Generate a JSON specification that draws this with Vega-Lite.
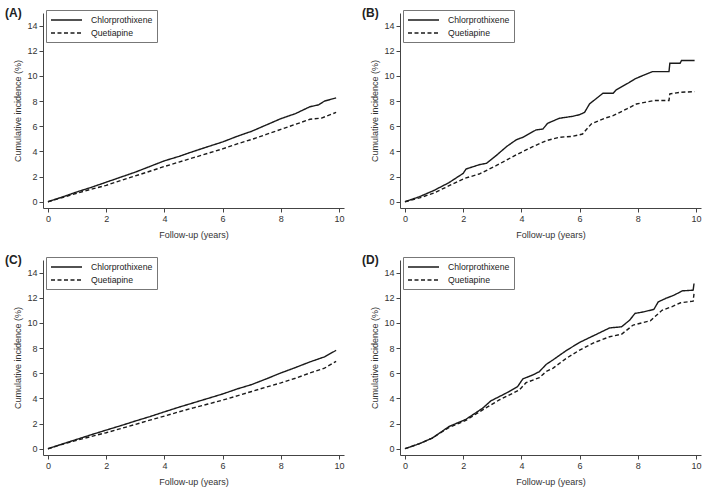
{
  "$schema": "https://vega.github.io/schema/vega-lite/v6.json",
  "padding": {"left": 5, "top": 6, "right": 5, "bottom": 5},
  "background": "white",
  "datasets": {
    "A": [
      {"drug": "Chlorprothixene", "t": 0, "v": 0}, {"drug": "Chlorprothixene", "t": 0.5, "v": 0.38}, {"drug": "Chlorprothixene", "t": 1, "v": 0.78}, {"drug": "Chlorprothixene", "t": 1.5, "v": 1.15}, {"drug": "Chlorprothixene", "t": 2, "v": 1.55}, {"drug": "Chlorprothixene", "t": 2.5, "v": 1.95}, {"drug": "Chlorprothixene", "t": 3, "v": 2.35}, {"drug": "Chlorprothixene", "t": 3.5, "v": 2.8}, {"drug": "Chlorprothixene", "t": 4, "v": 3.25}, {"drug": "Chlorprothixene", "t": 4.5, "v": 3.6}, {"drug": "Chlorprothixene", "t": 5, "v": 4.0}, {"drug": "Chlorprothixene", "t": 5.5, "v": 4.38}, {"drug": "Chlorprothixene", "t": 6, "v": 4.75}, {"drug": "Chlorprothixene", "t": 6.5, "v": 5.2}, {"drug": "Chlorprothixene", "t": 7, "v": 5.6}, {"drug": "Chlorprothixene", "t": 7.5, "v": 6.1}, {"drug": "Chlorprothixene", "t": 8, "v": 6.6}, {"drug": "Chlorprothixene", "t": 8.5, "v": 7.0}, {"drug": "Chlorprothixene", "t": 9, "v": 7.55}, {"drug": "Chlorprothixene", "t": 9.3, "v": 7.7}, {"drug": "Chlorprothixene", "t": 9.5, "v": 8.0}, {"drug": "Chlorprothixene", "t": 9.9, "v": 8.25},
      {"drug": "Quetiapine", "t": 0, "v": 0}, {"drug": "Quetiapine", "t": 0.5, "v": 0.33}, {"drug": "Quetiapine", "t": 1, "v": 0.68}, {"drug": "Quetiapine", "t": 1.5, "v": 1.0}, {"drug": "Quetiapine", "t": 2, "v": 1.3}, {"drug": "Quetiapine", "t": 2.5, "v": 1.68}, {"drug": "Quetiapine", "t": 3, "v": 2.05}, {"drug": "Quetiapine", "t": 3.5, "v": 2.42}, {"drug": "Quetiapine", "t": 4, "v": 2.8}, {"drug": "Quetiapine", "t": 4.5, "v": 3.15}, {"drug": "Quetiapine", "t": 5, "v": 3.5}, {"drug": "Quetiapine", "t": 5.5, "v": 3.85}, {"drug": "Quetiapine", "t": 6, "v": 4.2}, {"drug": "Quetiapine", "t": 6.5, "v": 4.6}, {"drug": "Quetiapine", "t": 7, "v": 4.95}, {"drug": "Quetiapine", "t": 7.5, "v": 5.35}, {"drug": "Quetiapine", "t": 8, "v": 5.75}, {"drug": "Quetiapine", "t": 8.5, "v": 6.15}, {"drug": "Quetiapine", "t": 9, "v": 6.55}, {"drug": "Quetiapine", "t": 9.4, "v": 6.65}, {"drug": "Quetiapine", "t": 9.9, "v": 7.1}
    ],
    "B": [
      {"drug": "Chlorprothixene", "t": 0, "v": 0}, {"drug": "Chlorprothixene", "t": 0.5, "v": 0.4}, {"drug": "Chlorprothixene", "t": 1, "v": 0.9}, {"drug": "Chlorprothixene", "t": 1.5, "v": 1.5}, {"drug": "Chlorprothixene", "t": 2, "v": 2.25}, {"drug": "Chlorprothixene", "t": 2.1, "v": 2.6}, {"drug": "Chlorprothixene", "t": 2.55, "v": 2.94}, {"drug": "Chlorprothixene", "t": 2.8, "v": 3.05}, {"drug": "Chlorprothixene", "t": 3.13, "v": 3.66}, {"drug": "Chlorprothixene", "t": 3.5, "v": 4.4}, {"drug": "Chlorprothixene", "t": 3.83, "v": 4.93}, {"drug": "Chlorprothixene", "t": 4.05, "v": 5.12}, {"drug": "Chlorprothixene", "t": 4.5, "v": 5.7}, {"drug": "Chlorprothixene", "t": 4.74, "v": 5.78}, {"drug": "Chlorprothixene", "t": 4.9, "v": 6.23}, {"drug": "Chlorprothixene", "t": 5.3, "v": 6.63}, {"drug": "Chlorprothixene", "t": 5.77, "v": 6.79}, {"drug": "Chlorprothixene", "t": 6, "v": 6.92}, {"drug": "Chlorprothixene", "t": 6.17, "v": 7.1}, {"drug": "Chlorprothixene", "t": 6.34, "v": 7.77}, {"drug": "Chlorprothixene", "t": 6.8, "v": 8.62}, {"drug": "Chlorprothixene", "t": 7.15, "v": 8.62}, {"drug": "Chlorprothixene", "t": 7.25, "v": 8.88}, {"drug": "Chlorprothixene", "t": 7.68, "v": 9.44}, {"drug": "Chlorprothixene", "t": 7.9, "v": 9.76}, {"drug": "Chlorprothixene", "t": 8.08, "v": 9.94}, {"drug": "Chlorprothixene", "t": 8.5, "v": 10.34}, {"drug": "Chlorprothixene", "t": 9.07, "v": 10.34}, {"drug": "Chlorprothixene", "t": 9.1, "v": 11.0}, {"drug": "Chlorprothixene", "t": 9.45, "v": 11.0}, {"drug": "Chlorprothixene", "t": 9.5, "v": 11.22}, {"drug": "Chlorprothixene", "t": 9.95, "v": 11.22},
      {"drug": "Quetiapine", "t": 0, "v": 0}, {"drug": "Quetiapine", "t": 0.5, "v": 0.3}, {"drug": "Quetiapine", "t": 1, "v": 0.7}, {"drug": "Quetiapine", "t": 1.5, "v": 1.25}, {"drug": "Quetiapine", "t": 2.04, "v": 1.85}, {"drug": "Quetiapine", "t": 2.55, "v": 2.2}, {"drug": "Quetiapine", "t": 3.13, "v": 2.86}, {"drug": "Quetiapine", "t": 3.83, "v": 3.74}, {"drug": "Quetiapine", "t": 4.39, "v": 4.37}, {"drug": "Quetiapine", "t": 4.85, "v": 4.85}, {"drug": "Quetiapine", "t": 5.3, "v": 5.12}, {"drug": "Quetiapine", "t": 5.77, "v": 5.2}, {"drug": "Quetiapine", "t": 6.1, "v": 5.38}, {"drug": "Quetiapine", "t": 6.4, "v": 6.18}, {"drug": "Quetiapine", "t": 6.86, "v": 6.63}, {"drug": "Quetiapine", "t": 7.15, "v": 6.84}, {"drug": "Quetiapine", "t": 7.62, "v": 7.37}, {"drug": "Quetiapine", "t": 7.95, "v": 7.77}, {"drug": "Quetiapine", "t": 8.55, "v": 8.04}, {"drug": "Quetiapine", "t": 9.07, "v": 8.04}, {"drug": "Quetiapine", "t": 9.1, "v": 8.57}, {"drug": "Quetiapine", "t": 9.47, "v": 8.7}, {"drug": "Quetiapine", "t": 9.95, "v": 8.75}
    ],
    "C": [
      {"drug": "Chlorprothixene", "t": 0, "v": 0}, {"drug": "Chlorprothixene", "t": 0.5, "v": 0.38}, {"drug": "Chlorprothixene", "t": 1, "v": 0.75}, {"drug": "Chlorprothixene", "t": 1.5, "v": 1.12}, {"drug": "Chlorprothixene", "t": 2, "v": 1.48}, {"drug": "Chlorprothixene", "t": 2.5, "v": 1.83}, {"drug": "Chlorprothixene", "t": 3, "v": 2.2}, {"drug": "Chlorprothixene", "t": 3.5, "v": 2.55}, {"drug": "Chlorprothixene", "t": 4, "v": 2.93}, {"drug": "Chlorprothixene", "t": 4.5, "v": 3.3}, {"drug": "Chlorprothixene", "t": 5, "v": 3.65}, {"drug": "Chlorprothixene", "t": 5.5, "v": 4.0}, {"drug": "Chlorprothixene", "t": 6, "v": 4.35}, {"drug": "Chlorprothixene", "t": 6.5, "v": 4.75}, {"drug": "Chlorprothixene", "t": 7, "v": 5.1}, {"drug": "Chlorprothixene", "t": 7.5, "v": 5.55}, {"drug": "Chlorprothixene", "t": 8, "v": 6.02}, {"drug": "Chlorprothixene", "t": 8.5, "v": 6.45}, {"drug": "Chlorprothixene", "t": 9, "v": 6.9}, {"drug": "Chlorprothixene", "t": 9.5, "v": 7.3}, {"drug": "Chlorprothixene", "t": 9.9, "v": 7.82},
      {"drug": "Quetiapine", "t": 0, "v": 0}, {"drug": "Quetiapine", "t": 0.5, "v": 0.35}, {"drug": "Quetiapine", "t": 1, "v": 0.68}, {"drug": "Quetiapine", "t": 1.5, "v": 0.98}, {"drug": "Quetiapine", "t": 2, "v": 1.27}, {"drug": "Quetiapine", "t": 2.5, "v": 1.6}, {"drug": "Quetiapine", "t": 3, "v": 1.93}, {"drug": "Quetiapine", "t": 3.5, "v": 2.27}, {"drug": "Quetiapine", "t": 4, "v": 2.59}, {"drug": "Quetiapine", "t": 4.5, "v": 2.93}, {"drug": "Quetiapine", "t": 5, "v": 3.25}, {"drug": "Quetiapine", "t": 5.5, "v": 3.55}, {"drug": "Quetiapine", "t": 6, "v": 3.86}, {"drug": "Quetiapine", "t": 6.5, "v": 4.2}, {"drug": "Quetiapine", "t": 7, "v": 4.55}, {"drug": "Quetiapine", "t": 7.5, "v": 4.9}, {"drug": "Quetiapine", "t": 8, "v": 5.23}, {"drug": "Quetiapine", "t": 8.5, "v": 5.6}, {"drug": "Quetiapine", "t": 9, "v": 6.02}, {"drug": "Quetiapine", "t": 9.5, "v": 6.4}, {"drug": "Quetiapine", "t": 9.9, "v": 6.95}
    ],
    "D": [
      {"drug": "Chlorprothixene", "t": 0, "v": 0}, {"drug": "Chlorprothixene", "t": 0.5, "v": 0.4}, {"drug": "Chlorprothixene", "t": 0.94, "v": 0.85}, {"drug": "Chlorprothixene", "t": 1.52, "v": 1.77}, {"drug": "Chlorprothixene", "t": 2.09, "v": 2.33}, {"drug": "Chlorprothixene", "t": 2.67, "v": 3.22}, {"drug": "Chlorprothixene", "t": 2.95, "v": 3.8}, {"drug": "Chlorprothixene", "t": 3.47, "v": 4.41}, {"drug": "Chlorprothixene", "t": 3.87, "v": 4.94}, {"drug": "Chlorprothixene", "t": 4.05, "v": 5.55}, {"drug": "Chlorprothixene", "t": 4.39, "v": 5.86}, {"drug": "Chlorprothixene", "t": 4.62, "v": 6.13}, {"drug": "Chlorprothixene", "t": 4.85, "v": 6.7}, {"drug": "Chlorprothixene", "t": 5.08, "v": 7.05}, {"drug": "Chlorprothixene", "t": 5.54, "v": 7.8}, {"drug": "Chlorprothixene", "t": 6, "v": 8.45}, {"drug": "Chlorprothixene", "t": 6.52, "v": 9.03}, {"drug": "Chlorprothixene", "t": 7.03, "v": 9.6}, {"drug": "Chlorprothixene", "t": 7.44, "v": 9.69}, {"drug": "Chlorprothixene", "t": 7.72, "v": 10.22}, {"drug": "Chlorprothixene", "t": 7.9, "v": 10.75}, {"drug": "Chlorprothixene", "t": 8.2, "v": 10.88}, {"drug": "Chlorprothixene", "t": 8.55, "v": 11.07}, {"drug": "Chlorprothixene", "t": 8.7, "v": 11.67}, {"drug": "Chlorprothixene", "t": 8.95, "v": 11.94}, {"drug": "Chlorprothixene", "t": 9.24, "v": 12.2}, {"drug": "Chlorprothixene", "t": 9.53, "v": 12.55}, {"drug": "Chlorprothixene", "t": 9.9, "v": 12.6}, {"drug": "Chlorprothixene", "t": 9.93, "v": 13.13},
      {"drug": "Quetiapine", "t": 0, "v": 0}, {"drug": "Quetiapine", "t": 0.5, "v": 0.4}, {"drug": "Quetiapine", "t": 0.94, "v": 0.85}, {"drug": "Quetiapine", "t": 1.52, "v": 1.7}, {"drug": "Quetiapine", "t": 2.09, "v": 2.25}, {"drug": "Quetiapine", "t": 2.67, "v": 3.09}, {"drug": "Quetiapine", "t": 3.24, "v": 3.88}, {"drug": "Quetiapine", "t": 3.93, "v": 4.67}, {"drug": "Quetiapine", "t": 4.16, "v": 5.25}, {"drug": "Quetiapine", "t": 4.62, "v": 5.65}, {"drug": "Quetiapine", "t": 4.85, "v": 6.13}, {"drug": "Quetiapine", "t": 5.08, "v": 6.39}, {"drug": "Quetiapine", "t": 5.54, "v": 7.18}, {"drug": "Quetiapine", "t": 6, "v": 7.84}, {"drug": "Quetiapine", "t": 6.52, "v": 8.45}, {"drug": "Quetiapine", "t": 7.03, "v": 8.9}, {"drug": "Quetiapine", "t": 7.44, "v": 9.1}, {"drug": "Quetiapine", "t": 7.84, "v": 9.83}, {"drug": "Quetiapine", "t": 8.43, "v": 10.17}, {"drug": "Quetiapine", "t": 8.83, "v": 11.0}, {"drug": "Quetiapine", "t": 9.18, "v": 11.3}, {"drug": "Quetiapine", "t": 9.47, "v": 11.6}, {"drug": "Quetiapine", "t": 9.9, "v": 11.73}, {"drug": "Quetiapine", "t": 9.93, "v": 12.33}
    ]
  },
  "columns": 2,
  "spacing": {"row": 52, "column": 56},
  "bounds": "flush",
  "resolve": {"scale": {"strokeDash": "independent", "x": "independent", "y": "independent"}, "legend": {"strokeDash": "independent"}},
  "concat": [
    {
      "width": 301, "height": 195,
      "data": {"name": "A"},
      "title": {"text": "(A)"},
      "mark": {"type": "line", "color": "#1a1a1a", "strokeWidth": 1.4},
      "encoding": {
        "x": {"field": "t", "type": "quantitative", "scale": {"domain": [-0.17, 10.17], "nice": false, "zero": false}, "axis": {"values": [0, 2, 4, 6, 8, 10], "title": "Follow-up (years)"}},
        "y": {"field": "v", "type": "quantitative", "scale": {"domain": [-0.5, 15], "nice": false, "zero": false}, "axis": {"values": [0, 2, 4, 6, 8, 10, 12, 14], "title": "Cumulative incidence (%)"}},
        "strokeDash": {"field": "drug", "type": "nominal", "scale": {"domain": ["Chlorprothixene", "Quetiapine"], "range": [[1, 0], [4, 2.5]]}, "legend": {"title": null}}
      }
    },
    {
      "width": 301, "height": 195,
      "data": {"name": "B"},
      "title": {"text": "(B)"},
      "mark": {"type": "line", "color": "#1a1a1a", "strokeWidth": 1.4},
      "encoding": {
        "x": {"field": "t", "type": "quantitative", "scale": {"domain": [-0.17, 10.17], "nice": false, "zero": false}, "axis": {"values": [0, 2, 4, 6, 8, 10], "title": "Follow-up (years)"}},
        "y": {"field": "v", "type": "quantitative", "scale": {"domain": [-0.5, 15], "nice": false, "zero": false}, "axis": {"values": [0, 2, 4, 6, 8, 10, 12, 14], "title": "Cumulative incidence (%)"}},
        "strokeDash": {"field": "drug", "type": "nominal", "scale": {"domain": ["Chlorprothixene", "Quetiapine"], "range": [[1, 0], [4, 2.5]]}, "legend": {"title": null}}
      }
    },
    {
      "width": 301, "height": 195,
      "data": {"name": "C"},
      "title": {"text": "(C)"},
      "mark": {"type": "line", "color": "#1a1a1a", "strokeWidth": 1.4},
      "encoding": {
        "x": {"field": "t", "type": "quantitative", "scale": {"domain": [-0.17, 10.17], "nice": false, "zero": false}, "axis": {"values": [0, 2, 4, 6, 8, 10], "title": "Follow-up (years)"}},
        "y": {"field": "v", "type": "quantitative", "scale": {"domain": [-0.5, 15], "nice": false, "zero": false}, "axis": {"values": [0, 2, 4, 6, 8, 10, 12, 14], "title": "Cumulative incidence (%)"}},
        "strokeDash": {"field": "drug", "type": "nominal", "scale": {"domain": ["Chlorprothixene", "Quetiapine"], "range": [[1, 0], [4, 2.5]]}, "legend": {"title": null}}
      }
    },
    {
      "width": 301, "height": 195,
      "data": {"name": "D"},
      "title": {"text": "(D)"},
      "mark": {"type": "line", "color": "#1a1a1a", "strokeWidth": 1.4},
      "encoding": {
        "x": {"field": "t", "type": "quantitative", "scale": {"domain": [-0.17, 10.17], "nice": false, "zero": false}, "axis": {"values": [0, 2, 4, 6, 8, 10], "title": "Follow-up (years)"}},
        "y": {"field": "v", "type": "quantitative", "scale": {"domain": [-0.5, 15], "nice": false, "zero": false}, "axis": {"values": [0, 2, 4, 6, 8, 10, 12, 14], "title": "Cumulative incidence (%)"}},
        "strokeDash": {"field": "drug", "type": "nominal", "scale": {"domain": ["Chlorprothixene", "Quetiapine"], "range": [[1, 0], [4, 2.5]]}, "legend": {"title": null}}
      }
    }
  ],
  "config": {
    "view": {"stroke": null},
    "font": "Liberation Sans",
    "axis": {"grid": false, "domainColor": "#444", "tickColor": "#444", "labelColor": "#333", "titleColor": "#333", "labelFontSize": 9, "titleFontSize": 9, "titleFontWeight": "normal", "tickSize": 4, "labelPadding": 2, "domainWidth": 1, "tickWidth": 1},
    "axisX": {"titlePadding": 7},
    "axisY": {"titlePadding": 4},
    "title": {"anchor": "start", "frame": "group", "fontSize": 12, "fontWeight": "bold", "color": "#222", "dx": -38, "offset": 0, "dy": 14, "baseline": "middle"},
    "legend": {"orient": "none", "legendX": 3, "legendY": -3, "strokeColor": "#777", "fillColor": "white", "padding": 4, "symbolType": "M-1,0H5.2", "symbolSize": 100, "symbolStrokeColor": "#1a1a1a", "symbolFillColor": "transparent", "symbolStrokeWidth": 1.3, "labelFontSize": 8.7, "labelColor": "#222", "labelOffset": 29, "rowPadding": 2, "labelFont": "Liberation Sans"}
  }
}
